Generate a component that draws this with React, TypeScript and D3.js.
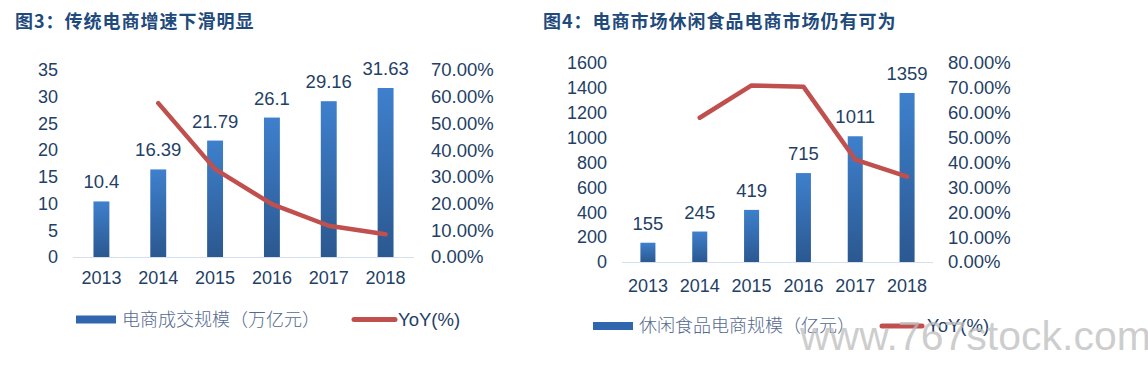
import React, { useEffect, useRef } from 'react';
import * as d3 from 'd3';

// data
const years = ['2013', '2014', '2015', '2016', '2017', '2018'];
const ecomScale = [10.4, 16.39, 21.79, 26.1, 29.16, 31.63];
const ecomYoY: (number | null)[] = [null, 0.576, 0.329, 0.198, 0.117, 0.085];
const snackScale = [155, 245, 419, 715, 1011, 1359];
const snackYoY: (number | null)[] = [null, 0.58, 0.71, 0.705, 0.412, 0.343];

const ecomTicks = [0, 5, 10, 15, 20, 25, 30, 35];
const ecomPctTicks = [0, 0.1, 0.2, 0.3, 0.4, 0.5, 0.6, 0.7];
const snackTicks = [0, 200, 400, 600, 800, 1000, 1200, 1400, 1600];
const snackPctTicks = [0, 0.1, 0.2, 0.3, 0.4, 0.5, 0.6, 0.7, 0.8];

const NUM_FONT = '"Liberation Sans", Arial, sans-serif';
const CJK_FONT = '"Noto Sans CJK SC", sans-serif';
const TEXT = '#243f66';
const RED = '#c0504d';

interface Panel {
    id: string;
    title: string;
    titleX: number;
    bars: number[];
    yoy: (number | null)[];
    ticks: number[];
    pctTicks: number[];
    legendBar: string;
    x0: number; x1: number;
    yBase: number; yTop: number;
    leftLabelX: number; rightLabelX: number;
    xLabelY: number;
    padding: number;
    legend: { rectX: number; rectY: number; textX: number; lineX0: number; lineX1: number; yoyX: number; y: number };
}

function drawPanel(svg: d3.Selection<SVGSVGElement, unknown, null, undefined>, p: Panel) {
    const g = svg.append('g');

    const grad = svg.select('defs').append('linearGradient')
        .attr('id', `grad-${p.id}`)
        .attr('x1', 0).attr('y1', 0).attr('x2', 0).attr('y2', 1);
    grad.append('stop').attr('offset', '0%').attr('stop-color', '#3e80cd');
    grad.append('stop').attr('offset', '100%').attr('stop-color', '#2b5890');

    const x = d3.scaleBand().domain(years).range([p.x0, p.x1]).paddingInner(p.padding).paddingOuter(p.padding / 2);
    const y = d3.scaleLinear().domain([0, d3.max(p.ticks) as number]).range([p.yBase, p.yTop]);
    const y2 = d3.scaleLinear().domain([0, d3.max(p.pctTicks) as number]).range([p.yBase, p.yTop]);
    const center = (d: string) => (x(d) as number) + x.bandwidth() / 2;

    // title
    svg.append('text')
        .attr('x', p.titleX).attr('y', 28)
        .attr('font-family', CJK_FONT).attr('font-weight', 'bold')
        .attr('font-size', 18).attr('letter-spacing', 1)
        .attr('fill', '#1f4a7c')
        .text(p.title);

    // left axis labels
    g.selectAll('.yl').data(p.ticks).enter().append('text')
        .attr('x', p.leftLabelX).attr('y', d => y(d)).attr('dy', '0.35em')
        .attr('text-anchor', 'end').attr('font-family', NUM_FONT).attr('font-size', 18)
        .attr('fill', TEXT).text(d => String(d));

    // right axis labels
    g.selectAll('.yr').data(p.pctTicks).enter().append('text')
        .attr('x', p.rightLabelX).attr('y', d => y2(d)).attr('dy', '0.35em')
        .attr('font-family', NUM_FONT).attr('font-size', 18.5)
        .attr('fill', TEXT).text(d => d3.format('.2%')(d));

    // bars
    g.selectAll('.bar').data(p.bars).enter().append('rect')
        .attr('x', (_, i) => x(years[i]) as number)
        .attr('y', d => y(d))
        .attr('width', x.bandwidth())
        .attr('height', d => p.yBase - y(d))
        .attr('fill', `url(#grad-${p.id})`);

    // baseline
    g.append('line')
        .attr('x1', p.x0).attr('x2', p.x1).attr('y1', p.yBase + 0.5).attr('y2', p.yBase + 0.5)
        .attr('stroke', '#d6dfec').attr('stroke-width', 1);

    // bar value labels
    g.selectAll('.val').data(p.bars).enter().append('text')
        .attr('x', (_, i) => center(years[i]))
        .attr('y', d => y(d) - 13)
        .attr('text-anchor', 'middle').attr('font-family', NUM_FONT).attr('font-size', 18.5)
        .attr('fill', TEXT).text(d => String(d));

    // year labels
    g.selectAll('.xl').data(years).enter().append('text')
        .attr('x', d => center(d)).attr('y', p.xLabelY).attr('dy', '0.35em')
        .attr('text-anchor', 'middle').attr('font-family', NUM_FONT).attr('font-size', 18)
        .attr('fill', TEXT).text(d => d);

    // YoY line
    const line = d3.line<number | null>()
        .defined(d => d !== null)
        .x((_, i) => center(years[i]))
        .y(d => y2(d as number));
    g.append('path')
        .attr('d', line(p.yoy))
        .attr('fill', 'none').attr('stroke', RED).attr('stroke-width', 4.5)
        .attr('stroke-linejoin', 'round').attr('stroke-linecap', 'round');

    // legend
    const L = p.legend;
    g.append('rect')
        .attr('x', L.rectX).attr('y', L.rectY).attr('width', 40).attr('height', 8)
        .attr('fill', '#2f66ad');
    g.append('text')
        .attr('x', L.textX).attr('y', L.y).attr('dy', '0.35em')
        .attr('font-family', CJK_FONT).attr('font-size', 18).attr('font-weight', 300)
        .attr('fill', '#54698e').text(p.legendBar);
    g.append('line')
        .attr('x1', L.lineX0).attr('x2', L.lineX1).attr('y1', L.y).attr('y2', L.y)
        .attr('stroke', RED).attr('stroke-width', 5).attr('stroke-linecap', 'round');
    g.append('text')
        .attr('x', L.yoyX).attr('y', L.y).attr('dy', '0.35em')
        .attr('font-family', NUM_FONT).attr('font-size', 18.5)
        .attr('fill', TEXT).text('YoY(%)');
}

const panels: Panel[] = [
    {
        id: 'ecom', title: '图3：传统电商增速下滑明显', titleX: 15,
        bars: ecomScale, yoy: ecomYoY, ticks: ecomTicks, pctTicks: ecomPctTicks,
        legendBar: '电商成交规模（万亿元）',
        x0: 73, x1: 414, yBase: 257, yTop: 70,
        leftLabelX: 58, rightLabelX: 431, xLabelY: 278, padding: 0.72,
        legend: { rectX: 76, rectY: 315.5, textX: 122, lineX0: 354, lineX1: 395, yoyX: 398, y: 319.5 },
    },
    {
        id: 'snack', title: '图4：电商市场休闲食品电商市场仍有可为', titleX: 543,
        bars: snackScale, yoy: snackYoY, ticks: snackTicks, pctTicks: snackPctTicks,
        legendBar: '休闲食品电商规模（亿元）',
        x0: 622, x1: 933, yBase: 262, yTop: 63,
        leftLabelX: 607, rightLabelX: 948, xLabelY: 286, padding: 0.71,
        legend: { rectX: 593, rectY: 322, textX: 639, lineX0: 882, lineX1: 922, yoyX: 927, y: 326 },
    },
];

const App: React.FC = () => {
    const ref = useRef<SVGSVGElement>(null);

    useEffect(() => {
        if (!ref.current) return;
        document.body.style.margin = '0';
        const svg = d3.select(ref.current);
        svg.selectAll('*').remove();
        svg.append('defs');
        svg.append('rect').attr('width', 1148).attr('height', 386).attr('fill', '#fff');

        panels.forEach(p => drawPanel(svg, p));

        // watermark
        svg.append('text')
            .attr('x', 800).attr('y', 350)
            .attr('font-family', NUM_FONT).attr('font-size', 41)
            .attr('fill', '#bdbdbd').attr('fill-opacity', 0.75)
            .text('www.767stock.com');
    }, []);

    return <svg ref={ref} width={1148} height={386} style={{ display: 'block' }} />;
};

export default App;
